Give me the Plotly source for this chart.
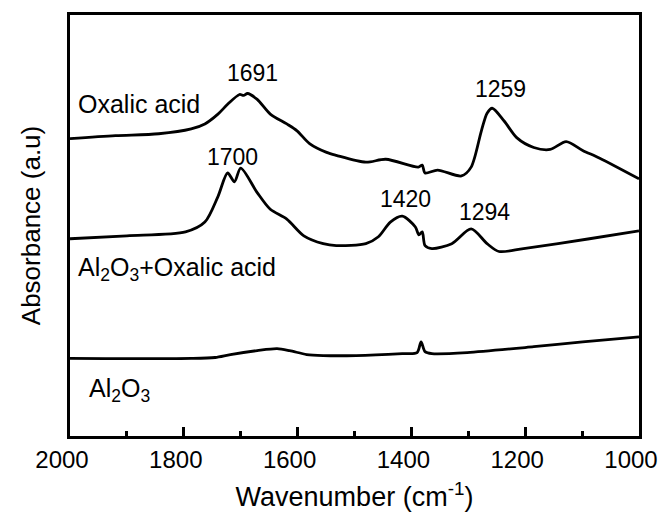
import plotly.graph_objects as go

# FTIR spectra (wavenumber in cm^-1, absorbance in arbitrary units, vertically offset)
oxalic_wn = [2000, 1920, 1844, 1787, 1763, 1740, 1723, 1702, 1695, 1688, 1671, 1648,
             1619, 1601, 1579, 1549, 1532, 1480, 1445, 1388, 1381, 1376, 1354, 1312,
             1295, 1277, 1267, 1258, 1237, 1215, 1185, 1156, 1128, 1099, 1069, 1000]
oxalic_abs = [3.03, 3.06, 3.08, 3.13, 3.18, 3.28, 3.38, 3.48, 3.47, 3.49, 3.43, 3.28,
              3.18, 3.11, 2.98, 2.89, 2.86, 2.79, 2.82, 2.74, 2.76, 2.68, 2.71, 2.65,
              2.74, 3.11, 3.29, 3.34, 3.21, 3.04, 2.94, 2.92, 3.00, 2.91, 2.83, 2.62]

mixed_wn = [2000, 1900, 1797, 1763, 1740, 1723, 1711, 1700, 1671, 1648, 1619, 1589,
            1555, 1532, 1480, 1458, 1437, 1416, 1393, 1387, 1381, 1376, 1364, 1329,
            1295, 1267, 1246, 1203, 1087, 1000]
mixed_abs = [2.01, 2.04, 2.08, 2.18, 2.44, 2.68, 2.59, 2.73, 2.48, 2.31, 2.21, 2.04,
             1.96, 1.94, 1.96, 2.03, 2.18, 2.24, 2.13, 2.05, 2.08, 1.94, 1.91, 1.96,
             2.11, 1.96, 1.88, 1.91, 2.01, 2.09]

alumina_wn = [2000, 1787, 1745, 1718, 1671, 1636, 1614, 1584, 1555, 1497, 1416, 1390,
              1383, 1376, 1364, 1302, 1185, 1099, 1000]
alumina_abs = [0.79, 0.79, 0.80, 0.83, 0.87, 0.89, 0.87, 0.83, 0.82, 0.82, 0.84, 0.85,
               0.96, 0.86, 0.84, 0.85, 0.91, 0.96, 1.01]

# Peak labels
peak_text = ["1691", "1259", "1700", "1420", "1294"]
peak_wn = [1679, 1243, 1714, 1411, 1272]
peak_abs = [3.70, 3.54, 2.84, 2.41, 2.28]

# Sample names
name_text = ["Oxalic acid", "Al<sub>2</sub>O<sub>3</sub>+Oxalic acid", "Al<sub>2</sub>O<sub>3</sub>"]
name_wn = [1990, 1990, 1970]
name_abs = [3.38, 1.70, 0.47]

tick_vals = [2000, 1800, 1600, 1400, 1200, 1000]
tick_text = ["2000", "1800", "1600", "1400", "1200", "1000"]

FONT = "Liberation Sans, Arial, sans-serif"

fig = go.Figure()
for wn, ab in [(oxalic_wn, oxalic_abs), (mixed_wn, mixed_abs), (alumina_wn, alumina_abs)]:
    fig.add_trace(go.Scatter(
        x=wn, y=ab, mode="lines",
        line=dict(color="black", width=2.8, shape="spline", smoothing=0.8),
        showlegend=False, hoverinfo="skip",
    ))

for t, x, y in zip(peak_text, peak_wn, peak_abs):
    fig.add_annotation(x=x, y=y, text=t, showarrow=False, xanchor="center", yanchor="middle",
                       font=dict(family=FONT, size=23, color="black"))

for t, x, y in zip(name_text, name_wn, name_abs):
    fig.add_annotation(x=x, y=y, text=t, showarrow=False, xanchor="left", yanchor="middle",
                       font=dict(family=FONT, size=25, color="black"))

fig.update_layout(
    width=670, height=519,
    margin=dict(l=70, r=23, t=12, b=78),
    paper_bgcolor="white", plot_bgcolor="white",
    font=dict(family=FONT, color="black"),
)

fig.update_xaxes(
    range=[2000, 1000], autorange=False,
    tickvals=tick_vals, ticktext=tick_text,
    ticks="inside", ticklen=9, tickwidth=2.5, tickcolor="black",
    tickfont=dict(family=FONT, size=24, color="black"),
    ticklabelshift=8,
    minor=dict(ticks="inside", ticklen=5, tickwidth=2.5, tickcolor="black", dtick=100,
               tick0=1900, showgrid=False),
    showline=True, linewidth=2.5, linecolor="black", mirror=True,
    showgrid=False, zeroline=False,
    title=dict(text="Wavenumber (cm<sup>-1</sup>)", font=dict(family=FONT, size=27, color="black"),
               standoff=16),
)

fig.update_yaxes(
    range=[0, 4.29], autorange=False,
    showticklabels=False, ticks="",
    showline=True, linewidth=2.5, linecolor="black", mirror=True,
    showgrid=False, zeroline=False,
    title=dict(text="Absorbance (a.u)", font=dict(family=FONT, size=26, color="black"),
               standoff=20),
)

fig.write_html("out.html")
